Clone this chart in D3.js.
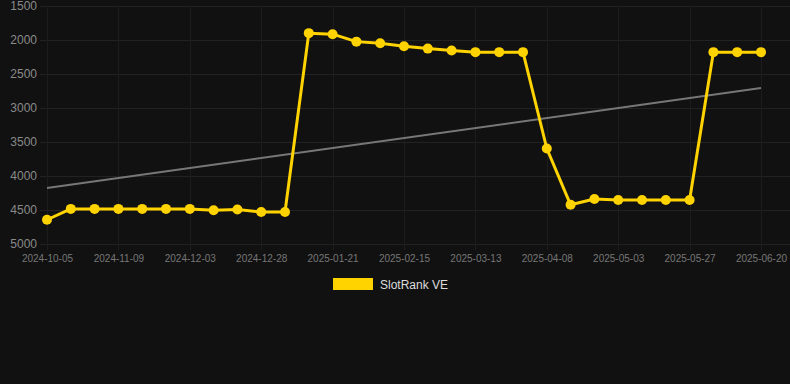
<!DOCTYPE html>
<html><head><meta charset="utf-8">
<script src="https://cdn.jsdelivr.net/npm/d3@7"></script>
<style>
html,body{margin:0;padding:0;background:#111111;}
svg{display:block;font-family:"Liberation Sans",Arial,sans-serif;}
</style></head>
<body><svg id="c" width="790" height="384"></svg>
<script>
const dates = ["2024-10-05","2024-10-17","2024-10-28","2024-11-09","2024-11-17","2024-11-25","2024-12-03","2024-12-11","2024-12-19","2024-12-28","2025-01-05","2025-01-13","2025-01-21","2025-01-29","2025-02-06","2025-02-15","2025-02-23","2025-03-04","2025-03-13","2025-03-21","2025-03-30","2025-04-08","2025-04-16","2025-04-24","2025-05-03","2025-05-11","2025-05-19","2025-05-27","2025-06-04","2025-06-12","2025-06-20"];
const values = [4650,4490,4490,4490,4490,4490,4490,4510,4500,4535,4535,1900,1915,2025,2050,2093,2128,2157,2180,2180,2180,3600,4430,4345,4360,4360,4360,4360,2180,2180,2180];
const yTicks = [1500,2000,2500,3000,3500,4000,4500,5000];
const xTickLabels = dates.filter((d,i)=>i%3===0);
const seriesName = "SlotRank VE";
const lineColor = "#FFD300";

const svg = d3.select("#c");
const x = d3.scalePoint().domain(dates).range([47,761]);
const y = d3.scaleLinear().domain([1500,5000]).range([6,243.5]);

// grid
svg.append("g").selectAll("line").data(yTicks).join("line")
  .attr("x1",40).attr("x2",790).attr("y1",d=>Math.round(y(d))+0.5).attr("y2",d=>Math.round(y(d))+0.5)
  .attr("stroke","#222222").attr("stroke-width",1);
svg.append("g").selectAll("line").data(xTickLabels).join("line")
  .attr("x1",d=>Math.round(x(d))+0.5).attr("x2",d=>Math.round(x(d))+0.5).attr("y1",6).attr("y2",250)
  .attr("stroke","#1d1d1d").attr("stroke-width",1);

// y axis labels
const yAxis = d3.axisLeft(y).tickValues(yTicks).tickSize(0).tickPadding(0).tickFormat(d3.format("d"));
const gy = svg.append("g").attr("transform","translate(37,0)").call(yAxis);
gy.select(".domain").remove();
gy.selectAll("text").attr("fill","#8a8a8a").attr("font-size",12).attr("font-family","Liberation Sans, Arial, sans-serif");

// x axis labels
const xAxis = d3.axisBottom(x).tickValues(xTickLabels).tickSize(0).tickPadding(0);
const gx = svg.append("g").attr("transform","translate(0,255)").call(xAxis);
gx.select(".domain").remove();
gx.selectAll("text").attr("fill","#777777").attr("font-size",10).attr("font-family","Liberation Sans, Arial, sans-serif");

// trend line (least squares)
const n = values.length;
const mx = d3.mean(values,(v,i)=>i), my = d3.mean(values);
let sxy=0,sxx=0; values.forEach((v,i)=>{sxy+=(i-mx)*(v-my);sxx+=(i-mx)*(i-mx);});
const slope = sxy/sxx, icpt = my - slope*mx;
const trend = [0,n-1].map(i=>({d:dates[i],v:icpt+slope*i}));
svg.append("path").datum(trend)
  .attr("d",d3.line().x(d=>x(d.d)).y(d=>y(d.v)))
  .attr("fill","none").attr("stroke","#777777").attr("stroke-width",2);

// series
const pts = dates.map((d,i)=>({d,v:values[i]}));
svg.append("path").datum(pts)
  .attr("d",d3.line().x(d=>x(d.d)).y(d=>y(d.v)))
  .attr("fill","none").attr("stroke",lineColor).attr("stroke-width",3).attr("stroke-linejoin","round");
svg.append("g").selectAll("circle").data(pts).join("circle")
  .attr("cx",d=>x(d.d)).attr("cy",d=>y(d.v)).attr("r",5).attr("fill",lineColor);

// legend
const lg = svg.append("g");
lg.append("rect").attr("x",333).attr("y",278).attr("width",40).attr("height",12).attr("fill",lineColor);
lg.append("text").attr("x",380).attr("y",288.5).attr("fill","#dddddd").attr("font-size",12).text(seriesName);
</script></body></html>
